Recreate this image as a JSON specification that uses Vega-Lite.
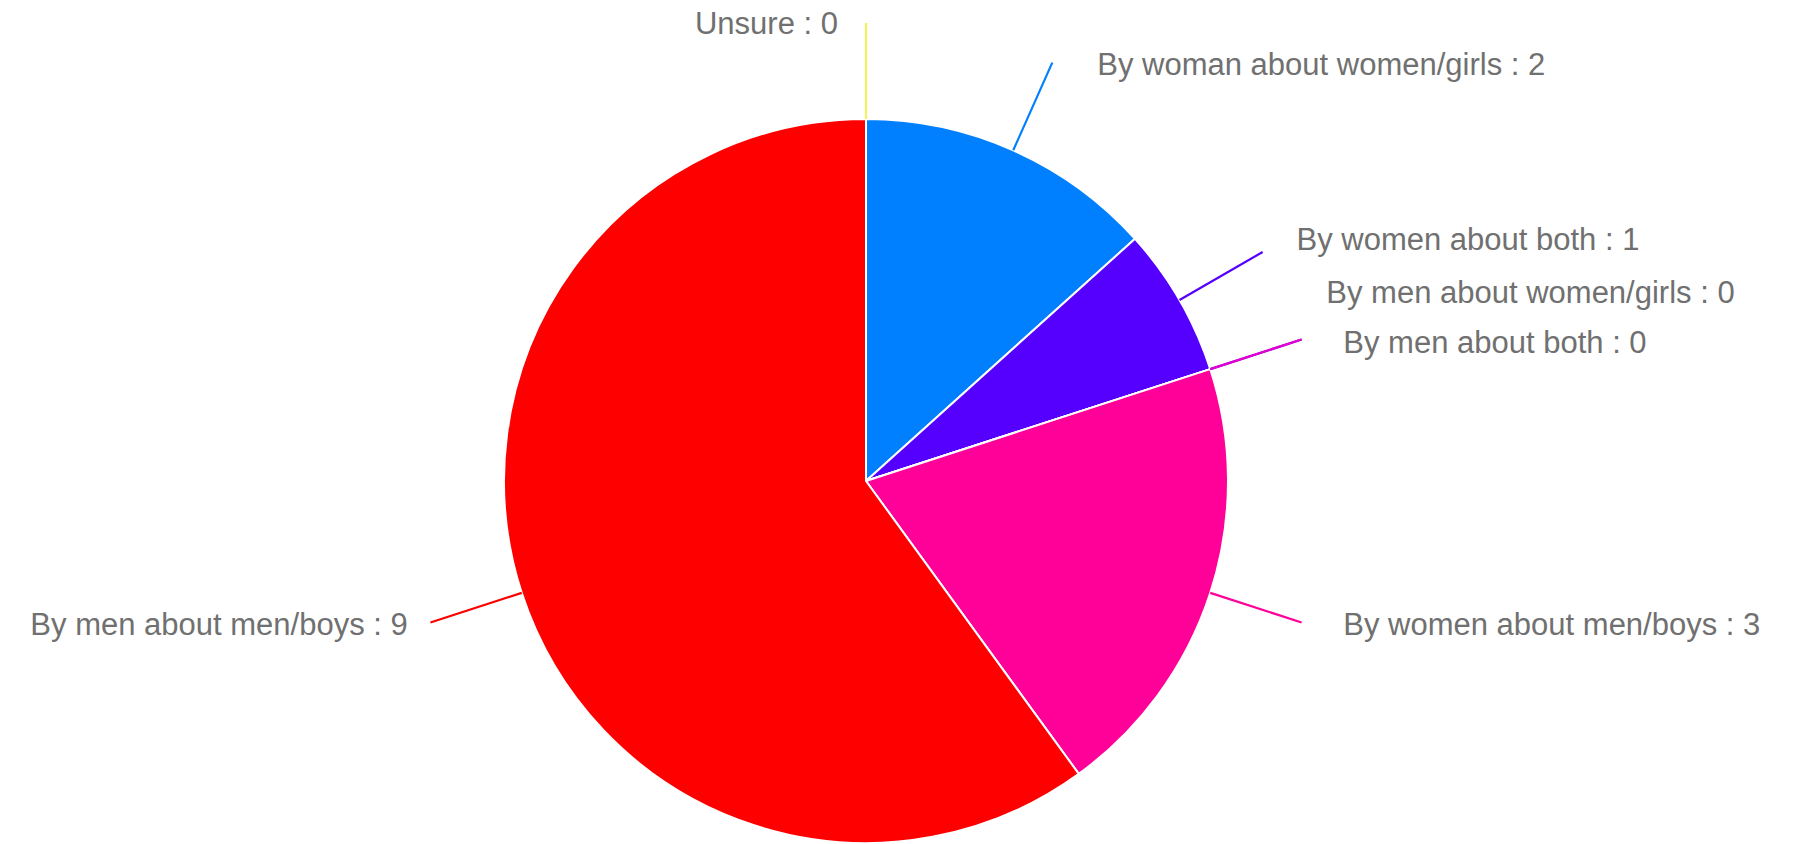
{
  "$schema": "https://vega.github.io/schema/vega-lite/v6.json",
  "autosize": {"type": "none"},
  "width": 1732,
  "height": 724,
  "padding": {"left": 0, "top": 119, "right": 68, "bottom": 1},
  "background": "white",
  "config": {"view": {"stroke": null}},
  "data": {
    "values": [
      {"order": 1, "category": "By woman about women/girls", "value": 2, "label": "By woman about women/girls : 2"},
      {"order": 2, "category": "By women about both", "value": 1, "label": "By women about both : 1"},
      {"order": 3, "category": "By men about women/girls", "value": 0, "label": "By men about women/girls : 0"},
      {"order": 4, "category": "By men about both", "value": 0, "label": "By men about both : 0"},
      {"order": 5, "category": "By women about men/boys", "value": 3, "label": "By women about men/boys : 3"},
      {"order": 6, "category": "By men about men/boys", "value": 9, "label": "By men about men/boys : 9"},
      {"order": 7, "category": "Unsure", "value": 0, "label": "Unsure : 0"}
    ]
  },
  "encoding": {
    "color": {
      "field": "category",
      "type": "nominal",
      "legend": null,
      "scale": {
        "domain": ["By woman about women/girls", "By women about both", "By men about women/girls", "By men about both", "By women about men/boys", "By men about men/boys", "Unsure"],
        "range": ["#0080ff", "#5500ff", "#8a00f0", "#e000d0", "#ff0099", "#ff0000", "#f5f060"]
      }
    }
  },
  "layer": [
    {
      "mark": {"type": "arc", "stroke": "white", "strokeWidth": 2},
      "encoding": {
        "theta": {"field": "value", "type": "quantitative", "stack": true},
        "order": {"field": "order", "type": "quantitative"}
      }
    },
    {
      "transform": [
        {"stack": "value", "groupby": [], "sort": [{"field": "order", "order": "ascending"}], "as": ["s0", "s1"]},
        {"fold": ["s0", "s1"], "as": ["edge", "ang"]},
        {"aggregate": [{"op": "mean", "field": "ang", "as": "mid"}], "groupby": ["category", "order"]}
      ],
      "mark": {"type": "arc", "filled": false, "radius": 458, "radius2": 362, "strokeWidth": 2.2},
      "encoding": {
        "theta": {"field": "mid", "type": "quantitative", "stack": null},
        "theta2": {"field": "mid"}
      }
    },
    {
      "mark": {"type": "text", "radius": 362, "align": "left", "baseline": "middle", "dx": 84, "dy": -84, "font": "Liberation Sans", "fontSize": 31},
      "encoding": {
        "theta": {"field": "value", "type": "quantitative", "stack": true},
        "order": {"field": "order", "type": "quantitative"},
        "color": {"value": "#707070"},
        "text": {"condition": {"test": "datum.order == 1", "field": "label"}, "value": ""}
      }
    },
    {
      "mark": {"type": "text", "radius": 362, "align": "left", "baseline": "middle", "dx": 117, "dy": -59, "font": "Liberation Sans", "fontSize": 31},
      "encoding": {
        "theta": {"field": "value", "type": "quantitative", "stack": true},
        "order": {"field": "order", "type": "quantitative"},
        "color": {"value": "#707070"},
        "text": {"condition": {"test": "datum.order == 2", "field": "label"}, "value": ""}
      }
    },
    {
      "mark": {"type": "text", "radius": 362, "align": "left", "baseline": "middle", "dx": 116, "dy": -75, "font": "Liberation Sans", "fontSize": 31},
      "encoding": {
        "theta": {"field": "value", "type": "quantitative", "stack": true},
        "order": {"field": "order", "type": "quantitative"},
        "color": {"value": "#707070"},
        "text": {"condition": {"test": "datum.order == 3", "field": "label"}, "value": ""}
      }
    },
    {
      "mark": {"type": "text", "radius": 362, "align": "left", "baseline": "middle", "dx": 133, "dy": -25, "font": "Liberation Sans", "fontSize": 31},
      "encoding": {
        "theta": {"field": "value", "type": "quantitative", "stack": true},
        "order": {"field": "order", "type": "quantitative"},
        "color": {"value": "#707070"},
        "text": {"condition": {"test": "datum.order == 4", "field": "label"}, "value": ""}
      }
    },
    {
      "mark": {"type": "text", "radius": 362, "align": "left", "baseline": "middle", "dx": 133, "dy": 33, "font": "Liberation Sans", "fontSize": 31},
      "encoding": {
        "theta": {"field": "value", "type": "quantitative", "stack": true},
        "order": {"field": "order", "type": "quantitative"},
        "color": {"value": "#707070"},
        "text": {"condition": {"test": "datum.order == 5", "field": "label"}, "value": ""}
      }
    },
    {
      "mark": {"type": "text", "radius": 362, "align": "right", "baseline": "middle", "dx": -114, "dy": 33, "font": "Liberation Sans", "fontSize": 31},
      "encoding": {
        "theta": {"field": "value", "type": "quantitative", "stack": true},
        "order": {"field": "order", "type": "quantitative"},
        "color": {"value": "#707070"},
        "text": {"condition": {"test": "datum.order == 6", "field": "label"}, "value": ""}
      }
    },
    {
      "mark": {"type": "text", "radius": 362, "align": "right", "baseline": "middle", "dx": -28, "dy": -94, "font": "Liberation Sans", "fontSize": 31},
      "encoding": {
        "theta": {"field": "value", "type": "quantitative", "stack": true},
        "order": {"field": "order", "type": "quantitative"},
        "color": {"value": "#707070"},
        "text": {"condition": {"test": "datum.order == 7", "field": "label"}, "value": ""}
      }
    }
  ]
}
